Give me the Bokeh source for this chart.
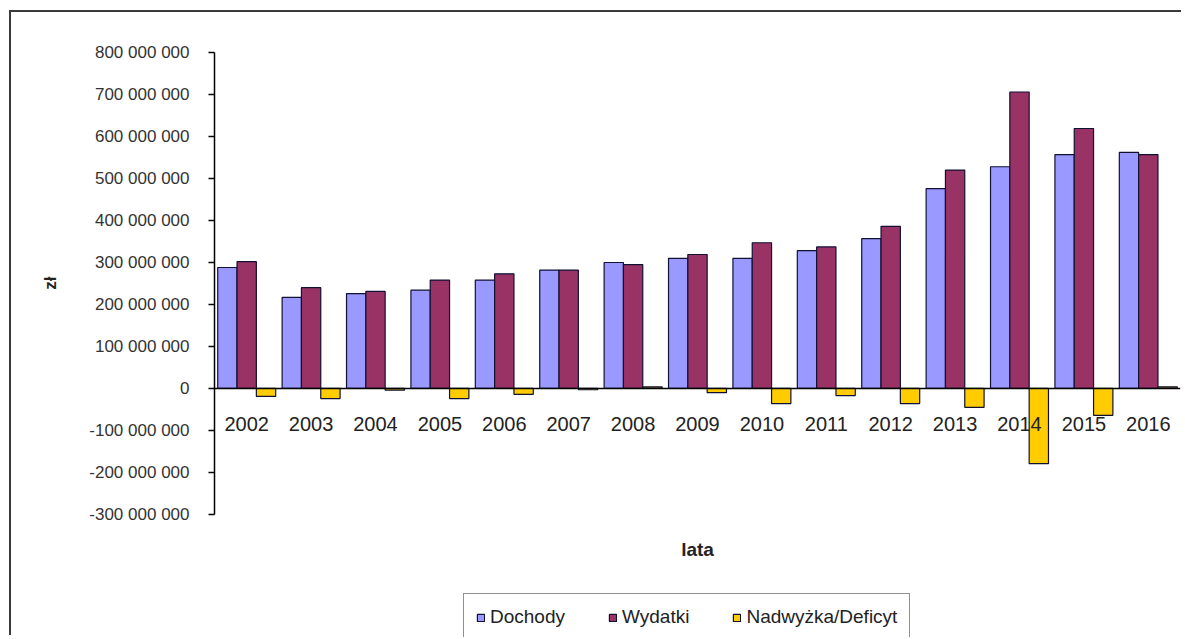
from bokeh.plotting import figure
from bokeh.models import (ColumnDataSource, FactorRange, Range1d, FixedTicker,
                          Legend, LegendItem, Label, Title)
from bokeh.transform import dodge
from bokeh.embed import file_html
from bokeh.resources import INLINE

years = ["2002", "2003", "2004", "2005", "2006", "2007", "2008", "2009",
         "2010", "2011", "2012", "2013", "2014", "2015", "2016"]
dochody = [288_000_000, 217_000_000, 226_000_000, 234_000_000, 258_000_000,
           282_000_000, 300_000_000, 310_000_000, 310_000_000, 328_000_000,
           357_000_000, 476_000_000, 528_000_000, 557_000_000, 562_000_000]
wydatki = [302_000_000, 240_000_000, 231_000_000, 258_000_000, 273_000_000,
           282_000_000, 295_000_000, 319_000_000, 347_000_000, 337_000_000,
           386_000_000, 520_000_000, 706_000_000, 619_000_000, 557_000_000]
nadwyzka = [-19_000_000, -24_000_000, -4_000_000, -24_000_000, -14_000_000,
            -3_000_000, 4_000_000, -10_000_000, -36_000_000, -17_000_000,
            -36_000_000, -45_000_000, -179_000_000, -64_000_000, 4_000_000]
series_names = ["Dochody", "Wydatki", "Nadwyżka/Deficyt"]
y_ticks = list(range(-300_000_000, 800_000_001, 100_000_000))

colors = ["#9999FF", "#993366", "#FFCC00"]

source = ColumnDataSource(dict(year=years, dochody=dochody, wydatki=wydatki,
                               nadwyzka=nadwyzka))

W, H = 1172, 625
p = figure(x_range=FactorRange(*years, range_padding=0),
           y_range=Range1d(-593_000_000, 800_000_000),
           width=W, height=H, output_backend="svg", toolbar_location=None,
           min_border_left=202, min_border_top=40, min_border_right=3,
           min_border_bottom=0)
p.styles = {"margin-left": "9px", "margin-top": "10px",
            "border-left": "2px solid #3a3a3a", "border-top": "2px solid #3a3a3a"}
p.outline_line_color = None
p.xgrid.grid_line_color = None
p.ygrid.grid_line_color = None
p.background_fill_color = "white"
p.border_fill_color = "white"

cols = ["dochody", "wydatki", "nadwyzka"]
offsets = [-0.3, 0.0, 0.3]
renderers = []
for col, off, c in zip(cols, offsets, colors):
    r = p.vbar(x=dodge("year", off, range=p.x_range), top=col, bottom=0,
               width=0.3, source=source, fill_color=c, line_color="#111133",
               line_width=1.2)
    renderers.append(r)

# y axis
yax = p.yaxis[0]
yax.bounds = (y_ticks[0], y_ticks[-1])
yax.ticker = FixedTicker(ticks=y_ticks)
yax.major_label_overrides = {t: f"{t:,}".replace(",", " ") for t in y_ticks}
yax.major_label_text_font = "Liberation Sans"
yax.major_label_text_font_size = "17px"
yax.major_label_text_color = "#333333"
yax.major_tick_in = 0
yax.major_tick_out = 6
yax.minor_tick_line_color = None
yax.axis_line_color = "black"
yax.axis_line_width = 1.5
yax.major_tick_line_color = "black"
yax.major_tick_line_width = 1.5
yax.major_label_standoff = 19

zl = Title(text="zł", align="right", offset=224, standoff=54,
           text_font="Liberation Sans", text_font_size="17px",
           text_font_style="bold", text_color="#222222")
p.add_layout(zl, "left")

# x axis at zero
xax = p.xaxis[0]
xax.fixed_location = 0
xax.axis_line_color = "black"
xax.axis_line_width = 1.5
xax.major_tick_line_color = None
xax.minor_tick_line_color = None
xax.major_label_text_font = "Liberation Sans"
xax.major_label_text_font_size = "20px"
xax.major_label_text_color = "#222222"
xax.major_label_standoff = 23

lata = Label(x=7.5, y=-383_000_000, text="lata", text_align="center",
             text_baseline="middle", text_font="Liberation Sans",
             text_font_size="19px", text_font_style="bold",
             text_color="#222222")
p.add_layout(lata)

legend = Legend(items=[LegendItem(label=n, renderers=[r])
                       for n, r in zip(series_names, renderers)],
                orientation="horizontal", location=(249, -4),
                glyph_width=9, glyph_height=9, label_standoff=5, spacing=43,
                padding=12, margin=0,
                label_text_font="Liberation Sans", label_text_font_size="19px",
                label_text_color="#222222",
                border_line_color="#222222", border_line_width=1.5,
                background_fill_color="white", background_fill_alpha=1)
p.add_layout(legend, "center")

open("out.html", "w").write(file_html(p, INLINE))
